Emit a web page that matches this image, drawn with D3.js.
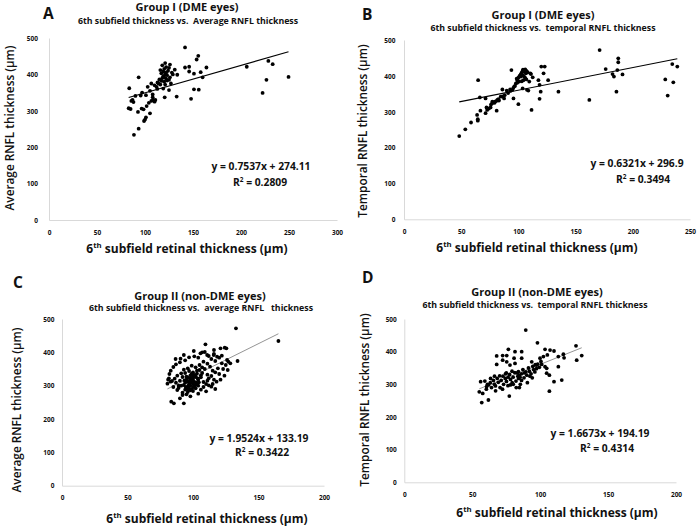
<!DOCTYPE html>
<html><head><meta charset="utf-8">
<script src="https://cdn.jsdelivr.net/npm/d3@7"></script>
<style>
body{margin:0;background:#fff}
svg{font-family:'Open Sans',sans-serif;display:block}
text{white-space:pre;fill:#111}
</style>
</head><body>
<svg id="chart" width="700" height="529"></svg>
<script>
// ---------- data ----------
const groupI_avg = [
[141.7,474],[155.5,451],[153.8,441],[206,421],[228.5,437],[233,428],[249.5,393],[226.5,385],[222.5,349],
[141.7,419],[146,421],[164,419],[146,408],[158,406],[160,392],[151,402],[133.6,399],[151,359],[156,358],[148,333],[133,339],[125,357],[120.5,337],[129,400],[131,413],
[121,431],[126,427],[118,425],[122,420],[125,418],[120,415],[116,412],[124,410],[119,408],[122,405],[117,403],[121,400],[123,398],[119,395],[120,392],[118,390],[122,388],[115,386],[125,385],[117,382],[120,380],[113,378],[114,375],[116,372],[110,370],[112,366],[121,372],[127,375],[126,392],[128,405],[119,361],[123,383],
[93.4,392],[83.6,362],[102.8,366],[106.6,375],[112.8,360],[105.2,355],[101,343],[95.5,342],[90,341],[85.8,327],[88,324],[83,307],[85,305],[92.7,297],[96.5,306],[98.5,304],[101.7,313],[106.6,327],[108.5,330],[110.8,330],[105.2,293],[101,282],[99,272],[100,276],[93.4,251],[88.5,234],[108,337],[104,322],[110,325],[87,330],[97,350],[108,345]
];
const groupI_temp = [
[48.3,232],[53.6,251],[58.6,270],[64.5,279],[64.5,275],[63.9,291],[66.8,303],[64.8,388],[66.3,340],[71.3,337],[72.1,312],[71.3,296],[72.7,305],[74.2,309],[75.7,312],[77.2,328],[79.2,325],[81.6,333],[81,303],[83,331],[84.5,342],[86,362],[87.5,337],[89.8,359],[92.8,362],[93.9,416],[95.7,337],[94.8,361],[96.3,370],[97.8,379],[99.2,388],[100.7,384],[100,321],[102.2,398],[102.8,409],[103.7,414],[105.1,412],[106.6,407],[104.5,388],[103.7,365],[107.5,361],[108.7,359],[109.5,384],[111,405],[112.5,396],[111.5,305],[110.4,407],[117.5,388],[118.5,375],[119.5,356],[118.5,336],[120,426],[123,426],[122,407],[126,388],[135,356],[162,333],
[98.5,392],[100,395],[101,400],[102,404],[104,402],[105,398],[106,394],[107,390],[103,385],[99,381],[97,372],[95.5,366],[93,358],[91,352],[88,346],[86,343],[80,329],[78.5,327],[77,323],[76,320],[107,414],[108,410],[104,417],[106,418],[81.5,331],[82.5,335],
[171,472],[176.3,419],[182.3,405],[183.5,398],[186.5,416],[187.3,449],[187.3,438],[191,404],[185.7,356],[228.4,390],[235.4,382],[230.5,345],[234.5,433],[238.9,426]
];
const groupII_avg = [
[132.8,472],[165.2,434],[134,374],[109.5,424],[124.2,414],[125.5,412],[121,412],[116,407],[100.6,404],[93,392],[86.7,380],[90.5,381],[105.7,397],[107,400],[110.8,392],[115.8,392],[118.4,387],[122,390],[126,377],[128.5,367],[126.5,347],[83.4,252],[85.4,247],[93,247],[81.6,322],[82.9,312],[80.5,306],[81,318],
[95,318],[97,305],[99,322],[101,311],[96,296],[93,302],[98,331],[100,340],[102,328],[104,318],[103,336],[105,347],[97,344],[94,338],[92,326],[90,315],[91,300],[89,293],[94,288],[96,281],[99,290],[101,299],[103,306],[106,325],[107,338],[108,311],[109,350],[111,333],[112,322],[110,305],[113,357],[115,345],[117,340],[114,329],[116,318],[119,352],[120,335],[122,367],[117,374],[114,380],[111,366],[108,372],[105,362],[102,355],[99,360],[96,352],[93,348],[91,337],[88,330],[86,321],[87,309],[89,300],[84,314],[85,296],[88,287],[92,279],[95,274],[98,268],[100,284],[102,292],[104,276],[106,288],[108,296],[110,283],[112,301],[115,305],[118,312],[121,318],[124,330],[123,350],[125,362],[127,372],[120,384],[116,395],[112,389],[109,401],[104,384],[101,388],[97,385],[94,376],[90,370],[87,364],[85,356],[83,345],[82,335],[100,318],[97,313],[95,327],[103,345],[106,331],[98,300],[100,305],[104,300],[94,309],[107,355],[111,315],[114,297],[117,290],[96,290],[92,272],[90,262],
[97.5,322],[99.5,315],[101.5,326],[98.5,310],[96.5,300],[100.5,296],[102.5,310],[95.5,312],[99,336],[101,332],[103.5,322],[97,292],[94.5,296],[98,286],[100,328],[102,302],[96,324],[104.5,310],[93.5,316],[98.5,318]
];
const groupII_temp = [
[89.4,466],[98,427],[126.4,418],[130.6,388],[126.9,374],[117.1,392],[117.6,381],[113.4,385],[107.3,405],[110.2,402],[103.6,407],[105.3,390],[102.4,385],[113.4,354],[106.8,328],[110.2,308],[115.9,313],[106.8,279],[76.6,407],[81.5,400],[86.4,400],[72.4,388],[75.4,388],[68,387],[80.8,380],[86.4,380],[72.4,374],[68,361],[75.4,369],[77.8,359],[81.5,364],[84,339],[93.8,369],[99.9,380],[97.5,359],[101.1,361],[103.6,354],[104.8,349],[104.8,334],[84.7,290],[77.3,264],[57,244],[61.9,252],[55.2,277],[57.7,272],[56.2,308],[60.6,293],
[60.4,285],[62.1,298],[63.3,305],[64.2,290],[65.6,312],[66.3,300],[67.1,295],[68.4,318],[69.2,306],[70.5,290],[71.3,312],[72.6,325],[73.1,300],[74.4,318],[75.2,309],[76.3,296],[77.5,330],[78.2,315],[79.4,305],[80.1,322],[81.3,336],[82.2,310],[83.6,325],[84.1,318],[85.4,300],[86.2,332],[87.3,345],[88.1,320],[89.5,338],[90.2,328],[91.4,350],[92.1,340],[93.3,332],[94.6,355],[95.2,345],[96.1,338],[97.3,348],[98.2,362],[99.4,352],[100.6,370],[70.2,326],[74.5,332],[78.1,298],[82.4,290],[86.3,312],[90.6,305],[94.2,320],[63.5,318],[67.2,280],[72.3,285],[76.4,322],[80.2,300],[84.5,328],[88.3,335],[92.5,325],[96.4,360],[85.2,322],[83.1,335],[79.3,340],[75.1,335],[66.4,325],[61.2,300],[59.3,310]
];

const xTicksA = [0,50,100,150,200,250,300];
const xTicksB = [0,50,100,150,200,250];
const xTicksCD = [0,50,100,150,200];
const yTicks = [0,100,200,300,400,500];

const letters = ['A','B','C','D'];
const titles = ['Group I (DME eyes)','Group I (DME eyes)','Group II (non-DME eyes)','Group II (non-DME eyes)'];
const subtitles = ['6th subfield thickness vs.  Average RNFL thickness','6th subfield thickness vs.  temporal RNFL thickness','6th subfield thickness vs.  average RNFL   thickness','6th subfield thickness vs.  temporal RNFL thickness'];
const yLabels = ['Average RNFL thickness (μm)','Temporal RNFL thickness (μm)','Average RNFL thickness (μm)','Temporal RNFL thickness (μm)'];
const slopes = [0.7537,0.6321,1.9524,1.6673];
const intercepts = [274.11,296.9,133.19,194.19];
const equations = ['y = 0.7537x + 274.11','y = 0.6321x + 296.9','y = 1.9524x + 133.19','y = 1.6673x + 194.19'];
const r2Values = ['0.2809','0.3494','0.3422','0.4314'];

// ---------- layout ----------
const layout = [
 {data:groupI_avg, xt:xTicksA, xr:[49,337], yr:[220,38], tickGap:11, letter:[43,18.5], title:[187,10.5], sub:[188,23.5], yl:[10,128], xl:[187,253], eq:[261,169.5], r2:[260,185.5], line:'#000', lw:1.1},
 {data:groupI_temp, xt:xTicksB, xr:[404,690], yr:[219.3,40], tickGap:8.5, letter:[362,20], title:[543,18.5], sub:[543,30.5], yl:[363,131], xl:[537,252], eq:[637,167], r2:[643,183], line:'#000', lw:1.1},
 {data:groupII_avg, xt:xTicksCD, xr:[62,324], yr:[485.7,319], tickGap:7.5, letter:[13,288], title:[200,300], sub:[201,311], yl:[17,410], xl:[207,523], eq:[259,441.5], r2:[262,455.5], line:'#888', lw:0.9},
 {data:groupII_temp, xt:xTicksCD, xr:[404.3,676], yr:[482.3,319], tickGap:7.5, letter:[362,283], title:[537,296], sub:[535,308], yl:[365,400], xl:[557,517], eq:[600,436.5], r2:[607,451.5], line:'#888', lw:0.9}
];

const svg = d3.select('#chart');

layout.forEach((L,i)=>{
  const x = d3.scaleLinear().domain([0, d3.max(L.xt)]).range(L.xr);
  const y = d3.scaleLinear().domain([0, 500]).range(L.yr);
  const g = svg.append('g');

  const xAxis = d3.axisBottom(x).tickValues(L.xt).tickSize(0).tickPadding(0).tickFormat(d3.format('d'));
  const yAxis = d3.axisLeft(y).tickValues(yTicks).tickSize(0).tickPadding(0).tickFormat(d3.format('d'));
  const gx = g.append('g').attr('transform',`translate(0,${L.yr[0]})`).call(xAxis);
  const gy = g.append('g').attr('transform',`translate(${L.xr[0]},0)`).call(yAxis);
  [gx,gy].forEach(a=>{
    a.select('.domain').attr('stroke','#d9d9d9').attr('stroke-width',1);
    a.selectAll('text').attr('font-family',"'Open Sans',sans-serif").attr('font-size',6.5).attr('font-weight',700).attr('fill','#222');
  });
  gx.selectAll('text').attr('dy',0).attr('y',14.5);
  gy.selectAll('text').attr('x',-L.tickGap).attr('dy','0.35em');

  // trendline
  const xs = d3.extent(L.data,d=>d[0]);
  g.append('line')
    .attr('x1',x(xs[0])).attr('y1',y(slopes[i]*xs[0]+intercepts[i]))
    .attr('x2',x(xs[1])).attr('y2',y(slopes[i]*xs[1]+intercepts[i]))
    .attr('stroke',L.line).attr('stroke-width',L.lw);

  // points
  g.append('g').selectAll('circle').data(L.data).join('circle')
    .attr('cx',d=>x(d[0])).attr('cy',d=>y(d[1])).attr('r',1.9).attr('fill','#000');

  // texts
  g.append('text').attr('x',L.letter[0]).attr('y',L.letter[1]).attr('font-size',15.5).attr('font-weight',700).text(letters[i]);
  g.append('text').attr('x',L.title[0]).attr('y',L.title[1]).attr('text-anchor','middle').attr('font-size',11).attr('font-weight',700).text(titles[i]);
  g.append('text').attr('x',L.sub[0]).attr('y',L.sub[1]).attr('text-anchor','middle').attr('font-size',8.8).attr('font-weight',700).text(subtitles[i]);
  g.append('text').attr('transform',`translate(${L.yl[0]},${L.yl[1]}) rotate(-90)`).attr('text-anchor','middle').attr('dy','0.35em').attr('font-size',11.8).attr('font-weight',600).text(yLabels[i]);
  const xl = g.append('text').attr('x',L.xl[0]).attr('y',L.xl[1]).attr('text-anchor','middle').attr('font-size',12).attr('font-weight',700);
  xl.append('tspan').text('6');
  xl.append('tspan').attr('font-size',7.8).attr('dy',-4.7).text('th');
  xl.append('tspan').attr('dy',4.7).text(' subfield retinal thickness (μm)');
  g.append('text').attr('x',L.eq[0]).attr('y',L.eq[1]).attr('text-anchor','middle').attr('font-size',10.3).attr('font-weight',700).text(equations[i]);
  const r = g.append('text').attr('x',L.r2[0]).attr('y',L.r2[1]).attr('text-anchor','middle').attr('font-size',10.3).attr('font-weight',700);
  r.append('tspan').text('R');
  r.append('tspan').attr('font-size',6.5).attr('dy',-3.8).text('2');
  r.append('tspan').attr('dy',3.8).text(' = ' + r2Values[i]);
});
</script>
</body></html>
